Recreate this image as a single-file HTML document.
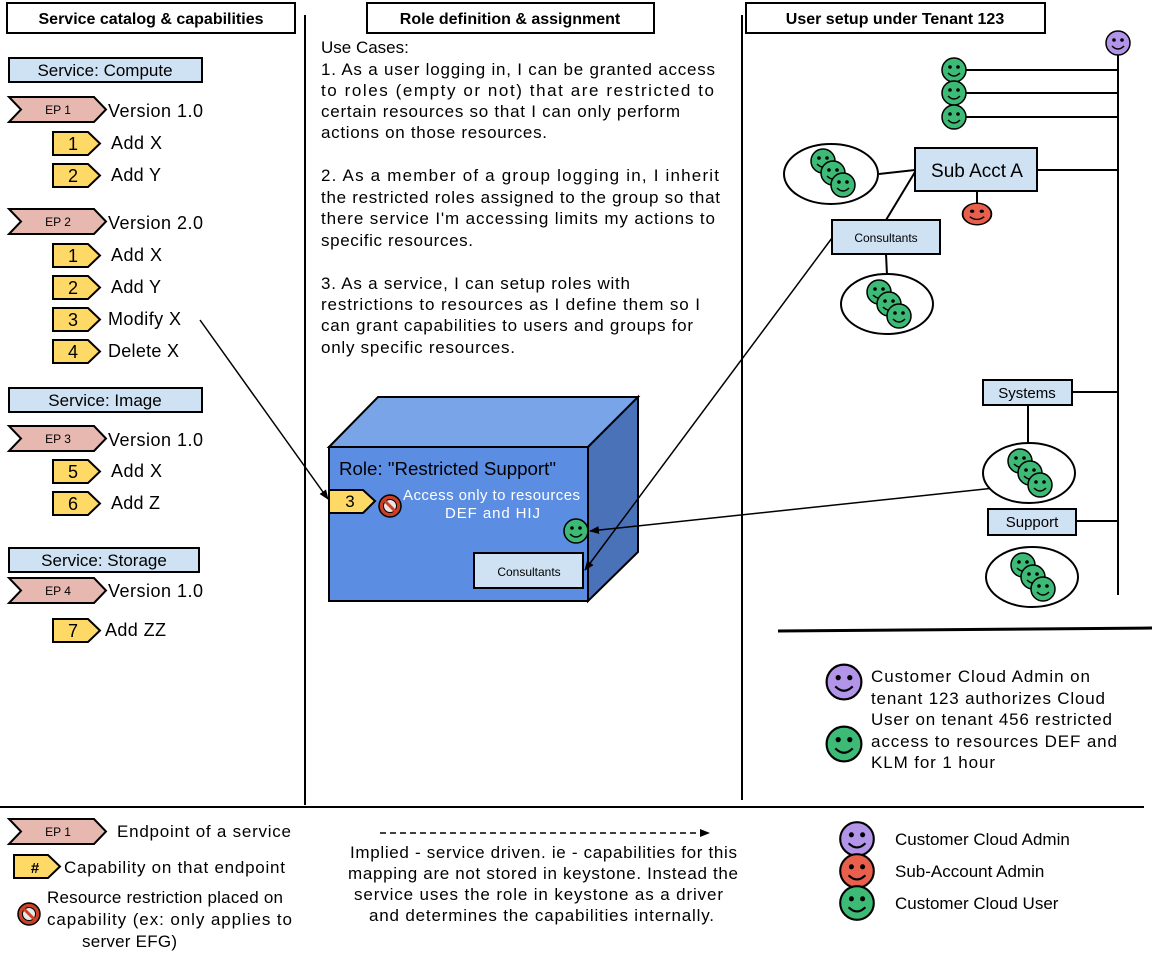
<!DOCTYPE html>
<html><head><meta charset="utf-8"><style>
body{margin:0;background:#fff}
svg{display:block;font-family:"Liberation Sans",Arial,sans-serif}
</style></head><body>
<svg width="1154" height="968" viewBox="0 0 1154 968" xmlns="http://www.w3.org/2000/svg">
<defs>
<g id="sm"><circle r="12" stroke="#000" stroke-width="1.5"/><circle cx="-4" cy="-3" r="1.8" fill="#000"/><circle cx="4" cy="-3" r="1.8" fill="#000"/><path d="M-6,3 Q0,9 6,3" fill="none" stroke="#000" stroke-width="1.5"/></g>
<g id="no"><circle r="11" fill="#cc4125" stroke="#000" stroke-width="1.5"/><circle r="6.5" fill="#e8e8e8" stroke="#000" stroke-width="1"/><line x1="-5" y1="-5" x2="5" y2="5" stroke="#cc4125" stroke-width="3"/></g>
<g id="grp"><use href="#sm" x="-10" y="-13" fill="#3dba75"/><use href="#sm" x="0" y="-1" fill="#3dba75"/><use href="#sm" x="10" y="11" fill="#3dba75"/></g>
<marker id="ar" markerWidth="10" markerHeight="10" refX="9" refY="5" orient="auto" markerUnits="userSpaceOnUse"><path d="M0,1 L10,5 L0,9 Z" fill="#000"/></marker>
</defs>
<g stroke="#000" stroke-width="2" fill="none">
<line x1="305" y1="15" x2="305" y2="805"/>
<line x1="742" y1="15" x2="742" y2="800"/>
<line x1="0" y1="807" x2="1144" y2="807"/>
</g>
<g stroke="#000" stroke-width="2" fill="#fff">
<rect x="7" y="3" width="288" height="30"/>
<rect x="367" y="3" width="287" height="30"/>
<rect x="746" y="3" width="299" height="30"/>
</g>
<g font-weight="bold" font-size="16" text-anchor="middle">
<text x="151" y="24">Service catalog &amp; capabilities</text>
<text x="510" y="24">Role definition &amp; assignment</text>
<text x="895" y="24">User setup under Tenant 123</text>
</g>
<g stroke="#000" stroke-width="2" fill="#cfe2f3">
<rect x="9" y="58" width="193" height="24"/>
<rect x="9" y="388" width="193" height="24"/>
<rect x="9" y="548" width="190" height="24"/>
</g>
<g font-size="17" text-anchor="middle">
<text x="105" y="76">Service: Compute</text>
<text x="105" y="406">Service: Image</text>
<text x="104" y="566">Service: Storage</text>
</g>
<g stroke="#000" stroke-width="2" fill="#e6b8af">
<polygon points="9,97 94,97 106,109.5 94,122 9,122 21,109.5"/>
<polygon points="9,209 94,209 106,221.5 94,234 9,234 21,221.5"/>
<polygon points="9,426 94,426 106,438.5 94,451 9,451 21,438.5"/>
<polygon points="9,578 94,578 106,590.5 94,603 9,603 21,590.5"/>
<polygon points="9,819 94,819 106,831.5 94,844 9,844 21,831.5"/>
</g>
<g font-size="12" text-anchor="middle">
<text x="58" y="114">EP 1</text><text x="58" y="226">EP 2</text><text x="58" y="443">EP 3</text><text x="58" y="595">EP 4</text><text x="58" y="836">EP 1</text>
</g>
<g font-size="18" lengthAdjust="spacingAndGlyphs">
<text x="108" y="117" textLength="95">Version 1.0</text><text x="108" y="229" textLength="95">Version 2.0</text><text x="108" y="446" textLength="95">Version 1.0</text><text x="108" y="597" textLength="95">Version 1.0</text>
</g>
<g stroke="#000" stroke-width="2" fill="#ffd966">
<polygon points="53,132 88,132 100,143.5 88,155 53,155"/>
<polygon points="53,164 88,164 100,175.5 88,187 53,187"/>
<polygon points="53,244 88,244 100,255.5 88,267 53,267"/>
<polygon points="53,276 88,276 100,287.5 88,299 53,299"/>
<polygon points="53,308 88,308 100,319.5 88,331 53,331"/>
<polygon points="53,340 88,340 100,351.5 88,363 53,363"/>
<polygon points="53,460 88,460 100,471.5 88,483 53,483"/>
<polygon points="53,492 88,492 100,503.5 88,515 53,515"/>
<polygon points="53,619 88,619 100,630.5 88,642 53,642"/>
<polygon points="14,855 48,855 60,866.5 48,878 14,878"/>
</g>
<g font-size="18" text-anchor="middle">
<text x="73" y="150">1</text><text x="73" y="182">2</text><text x="73" y="262">1</text><text x="73" y="294">2</text><text x="73" y="326">3</text><text x="73" y="358">4</text><text x="73" y="478">5</text><text x="73" y="510">6</text><text x="73" y="637">7</text>
<text x="35" y="873" font-weight="bold" font-size="15">#</text>
</g>
<g font-size="18" lengthAdjust="spacingAndGlyphs">
<text x="111" y="149" textLength="51">Add X</text><text x="111" y="181" textLength="50">Add Y</text><text x="111" y="261" textLength="51">Add X</text><text x="111" y="293" textLength="50">Add Y</text><text x="108" y="325" textLength="73">Modify X</text><text x="108" y="357" textLength="71">Delete X</text><text x="111" y="477" textLength="51">Add X</text><text x="111" y="509" textLength="49">Add Z</text><text x="105" y="636" textLength="61">Add ZZ</text>
</g>
<g font-size="17" lengthAdjust="spacingAndGlyphs">
<text x="321" y="53">Use Cases:</text>
<text x="321" y="75" textLength="394">1. As a user logging in, I can be granted access</text>
<text x="321" y="96" textLength="393">to roles (empty or not) that are restricted to</text>
<text x="321" y="117" textLength="359">certain resources so that I can only perform</text>
<text x="321" y="138" textLength="226">actions on those resources.</text>
<text x="321" y="181" textLength="398">2. As a member of a group logging in, I inherit</text>
<text x="321" y="203" textLength="399">the restricted roles assigned to the group so that</text>
<text x="321" y="224" textLength="394">there service I'm accessing limits my actions to</text>
<text x="321" y="246" textLength="152">specific resources.</text>
<text x="321" y="289" textLength="309">3. As a service, I can setup roles with</text>
<text x="321" y="310" textLength="379">restrictions to resources as I define them so I</text>
<text x="321" y="331" textLength="372">can grant capabilities to users and groups for</text>
<text x="321" y="353" textLength="194">only specific resources.</text>
</g>
<g stroke="#000" stroke-width="2">
<polygon points="329,447 378,397 638,397 588,447" fill="#7aa4e8"/>
<polygon points="588,447 638,397 638,552 588,601" fill="#4a72b8"/>
<rect x="329" y="447" width="259" height="154" fill="#5b8de3"/>
</g>
<text x="339" y="475" font-size="18" textLength="217" lengthAdjust="spacingAndGlyphs">Role: "Restricted Support"</text>
<polygon points="329,490 363,490 375,501 363,513 329,513" fill="#ffd966" stroke="#000" stroke-width="2"/>
<text x="350" y="507" font-size="17" text-anchor="middle">3</text>
<use href="#no" x="390" y="506"/>
<g font-size="15" fill="#fff" lengthAdjust="spacingAndGlyphs"><text x="403" y="500" textLength="177">Access only to resources</text><text x="445" y="518" textLength="95">DEF and HIJ</text></g>
<use href="#sm" x="576" y="531" fill="#3dba75"/>
<rect x="474" y="553" width="109" height="35" fill="#cfe2f3" stroke="#000" stroke-width="2"/>
<text x="529" y="576" font-size="12" text-anchor="middle">Consultants</text>
<g stroke="#000" stroke-width="1.5" fill="none" marker-end="url(#ar)">
<line x1="200" y1="320" x2="328" y2="499"/>
<line x1="1004" y1="487" x2="590" y2="531"/>
<line x1="832" y1="238" x2="585" y2="570"/>
</g>
<g stroke="#000" stroke-width="2" fill="none">
<line x1="1118" y1="55" x2="1118" y2="595"/>
<line x1="966" y1="70" x2="1118" y2="70"/>
<line x1="966" y1="93" x2="1118" y2="93"/>
<line x1="966" y1="117" x2="1118" y2="117"/>
<line x1="1037" y1="170" x2="1118" y2="170"/>
<line x1="977" y1="191" x2="977" y2="204"/>
<line x1="879" y1="174" x2="915" y2="170"/>
<line x1="915" y1="172" x2="886" y2="220"/>
<line x1="886" y1="254" x2="887" y2="275"/>
<line x1="1072" y1="392" x2="1118" y2="392"/>
<line x1="1028" y1="405" x2="1028" y2="444"/>
<line x1="1076" y1="521" x2="1118" y2="521"/>
<line x1="778" y1="631" x2="1152" y2="628" stroke-width="3"/>
</g>
<use href="#sm" x="1118" y="43" fill="#b294e8"/>
<use href="#sm" x="954" y="70" fill="#3dba75"/>
<use href="#sm" x="954" y="93" fill="#3dba75"/>
<use href="#sm" x="954" y="117" fill="#3dba75"/>
<g stroke="#000" stroke-width="2" fill="#cfe2f3">
<rect x="915" y="148" width="122" height="43"/>
<rect x="832" y="220" width="108" height="34"/>
<rect x="983" y="380" width="89" height="25"/>
<rect x="988" y="509" width="88" height="26"/>
</g>
<text x="977" y="177" font-size="19" text-anchor="middle">Sub Acct A</text>
<text x="886" y="242" font-size="12" text-anchor="middle">Consultants</text>
<text x="1027" y="398" font-size="15" text-anchor="middle">Systems</text>
<text x="1032" y="527" font-size="15" text-anchor="middle">Support</text>
<g transform="translate(977,214) scale(1.2,0.9)"><use href="#sm" fill="#e8604c"/></g>
<g stroke="#000" stroke-width="2" fill="#fff">
<ellipse cx="831" cy="174" rx="47" ry="30"/>
<ellipse cx="887" cy="304" rx="46" ry="30"/>
<ellipse cx="1029" cy="473" rx="46" ry="30"/>
<ellipse cx="1032" cy="577" rx="46" ry="30"/>
</g>
<use href="#grp" x="833" y="174"/>
<use href="#grp" x="889" y="305"/>
<use href="#grp" x="1030" y="474"/>
<use href="#grp" x="1033" y="578"/>
<g transform="translate(844,682) scale(1.45)"><use href="#sm" fill="#b294e8"/></g>
<g transform="translate(844,744) scale(1.45)"><use href="#sm" fill="#3dba75"/></g>
<g font-size="17" lengthAdjust="spacingAndGlyphs">
<text x="871" y="682" textLength="219">Customer Cloud Admin on</text>
<text x="871" y="704" textLength="234">tenant 123 authorizes Cloud</text>
<text x="871" y="725" textLength="241">User on tenant 456 restricted</text>
<text x="871" y="747" textLength="246">access to resources DEF and</text>
<text x="871" y="768" textLength="124">KLM for 1 hour</text>
</g>
<g font-size="17" lengthAdjust="spacingAndGlyphs">
<text x="117" y="837" textLength="174">Endpoint of a service</text>
<text x="64" y="873" textLength="221">Capability on that endpoint</text>
<text x="47" y="903" textLength="236">Resource restriction placed on</text>
<text x="47" y="925" textLength="245">capability (ex: only applies to</text>
<text x="82" y="947" textLength="95">server EFG)</text>
</g>
<use href="#no" x="29" y="914"/>
<line x1="380" y1="833" x2="709" y2="833" stroke="#000" stroke-width="1.5" stroke-dasharray="6,4" marker-end="url(#ar)"/>
<g font-size="17" lengthAdjust="spacingAndGlyphs">
<text x="350" y="858" textLength="387">Implied - service driven. ie - capabilities for this</text>
<text x="348" y="879" textLength="390">mapping are not stored in keystone. Instead the</text>
<text x="354" y="900" textLength="369">service uses the role in keystone as a driver</text>
<text x="369" y="921" textLength="345">and determines the capabilities internally.</text>
</g>
<g transform="translate(857,839) scale(1.4)"><use href="#sm" fill="#b294e8"/></g>
<g transform="translate(857,871) scale(1.4)"><use href="#sm" fill="#e8604c"/></g>
<g transform="translate(857,903) scale(1.4)"><use href="#sm" fill="#3dba75"/></g>
<g font-size="17">
<text x="895" y="845">Customer Cloud Admin</text>
<text x="895" y="877">Sub-Account Admin</text>
<text x="895" y="909">Customer Cloud User</text>
</g>
</svg>
</body></html>
